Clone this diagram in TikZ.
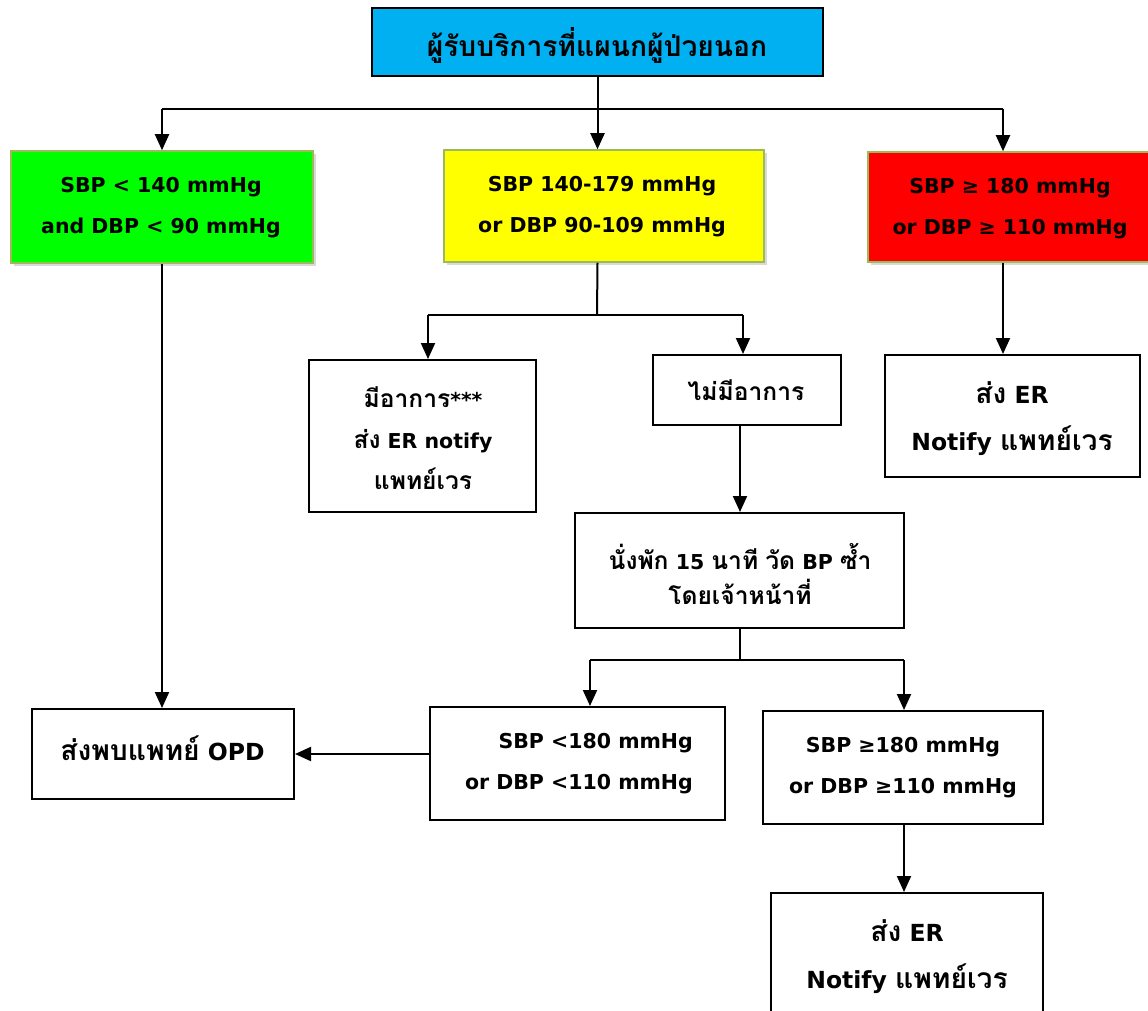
\documentclass[tikz,border=0pt]{standalone}
\usepackage{fontspec}
\setmainfont{DejaVu Sans}[BoldFont={DejaVu Sans Bold}]
\newfontfamily\thaifont[Script=Thai,Scale=1.2]{Loma}
\newcommand\tht[1]{{\thaifont\bfseries #1}}
\usetikzlibrary{arrows.meta,shadows}
\definecolor{cbox}{HTML}{00B0F0}
\definecolor{gbox}{HTML}{00FF00}
\definecolor{ybox}{HTML}{FFFF00}
\definecolor{rbox}{HTML}{FF0000}
\definecolor{bord}{HTML}{9BBB59}
\tikzset{
  txt/.style={font=\bfseries\fontsize{20.5}{41}\selectfont, align=center, inner sep=0pt},
  bigtxt/.style={font=\bfseries\fontsize{23.5}{47}\selectfont, align=center, inner sep=0pt},
  wbox/.style={draw=black, line width=2pt, fill=white},
  cbx/.style={draw=bord, line width=1.5pt, drop shadow={shadow xshift=3pt, shadow yshift=-3pt, opacity=0.3}},
  conn/.style={line width=2pt},
  arr/.style={line width=2pt, -{Triangle[width=14pt,length=16pt]}},
}
\begin{document}
\begin{tikzpicture}[x=1pt,y=-1pt]
\useasboundingbox (0,0) rectangle (1148,1011);
\begin{scope}
\clip (0,0) rectangle (1148,1011);
% boxes
\node[draw=black, line width=2.75pt, fill=cbox, minimum width=451pt, minimum height=68pt] (top) at (597.5,42) {};
\node[txt, font=\bfseries\fontsize{23.5}{30}\selectfont] at (597,45) {\tht{ผู้รับบริการที่แผนกผู้ป่วยนอก}};

\node[cbx, fill=gbox, minimum width=302pt, minimum height=112pt] (green) at (162,207) {};
\node[txt] at (161,208) {SBP < 140 mmHg\\and DBP < 90 mmHg};

\node[cbx, fill=ybox, minimum width=320pt, minimum height=112pt] (yellow) at (604,206) {};
\node[txt] at (602,206.5) {SBP 140-179 mmHg\\or DBP 90-109 mmHg};

\node[cbx, fill=rbox, minimum width=292pt, minimum height=110pt] (red) at (1014,207) {};
\node[txt] at (1010,208.5) {SBP ≥ 180 mmHg\\or DBP ≥ 110 mmHg};

\node[wbox, minimum width=227pt, minimum height=152pt] (sym) at (422.5,436) {};
\node[txt] at (423,438.5) {\tht{มีอาการ}***\\\tht{ส่ง} ER notify\\\tht{แพทย์เวร}};

\node[wbox, minimum width=188pt, minimum height=70pt] (nosym) at (747,390) {};
\node[txt] at (746,390) {\tht{ไม่มีอาการ}};

\node[wbox, minimum width=255pt, minimum height=122pt] (er1) at (1012.5,416) {};
\node[bigtxt] at (1012,419) {\tht{ส่ง} ER\\Notify \tht{แพทย์เวร}};

\node[wbox, minimum width=329pt, minimum height=115pt] (rest) at (739.5,570.5) {};
\node[txt, font=\bfseries\fontsize{20.5}{35}\selectfont] at (740,574) {\tht{นั่งพัก} 15 \tht{นาที} \tht{วัด} BP \tht{ซ้ำ}\\\tht{โดยเจ้าหน้าที่}};

\node[wbox, minimum width=262pt, minimum height=90pt] (opd) at (163,754) {};
\node[bigtxt] at (162.5,748) {\tht{ส่งพบแพทย์} OPD};

\node[wbox, minimum width=295pt, minimum height=113pt] (low) at (577.5,763.5) {};
\node[txt, align=right, anchor=east] at (693,764) {SBP <180 mmHg\\or DBP <110 mmHg};

\node[wbox, minimum width=280pt, minimum height=113pt] (high) at (903,767.5) {};
\node[txt] at (903,767.5) {SBP ≥180 mmHg\\or DBP ≥110 mmHg};

\node[wbox, minimum width=272pt, minimum height=132pt] (er2) at (907,959) {};
\node[bigtxt] at (907,957) {\tht{ส่ง} ER\\Notify \tht{แพทย์เวร}};
\end{scope}

% connectors
\coordinate (hL) at (162,109);
\coordinate (hR) at (1003,109);
\coordinate (hM) at (top.south |- hL);
\draw[conn] (top.south) -- (hM);
\draw[conn] (hL) -- (hR);
\draw[arr] (hL) -- (hL |- green.north);
\draw[arr] (hM) -- (hM |- yellow.north);
\draw[arr] (hR) -- (hR |- red.north);

\draw[arr] (green.south) -- (green.south |- opd.north);

\coordinate (yS) at (hM |- yellow.south);
\coordinate (yM) at (597,315);
\coordinate (yL) at (428,315);
\coordinate (yR) at (743,315);
\draw[conn] (yS) -- (yM);
\draw[conn] (yL) -- (yR);
\draw[arr] (yL) -- (yL |- sym.north);
\draw[arr] (yR) -- (yR |- nosym.north);

\draw[arr] (hR |- red.south) -- (hR |- er1.north);

\draw[arr] (nosym.south -| 740,0) -- (rest.north -| 740,0);

\coordinate (rM) at (740,660);
\coordinate (rL) at (590,660);
\coordinate (rR) at (904,660);
\draw[conn] (rest.south -| rM) -- (rM);
\draw[conn] (rL) -- (rR);
\draw[arr] (rL) -- (rL |- low.north);
\draw[arr] (rR) -- (rR |- high.north);

\draw[arr] (low.west |- opd.east) -- (opd.east);
\draw[arr] (rR |- high.south) -- (rR |- er2.north);
\end{tikzpicture}
\end{document}
